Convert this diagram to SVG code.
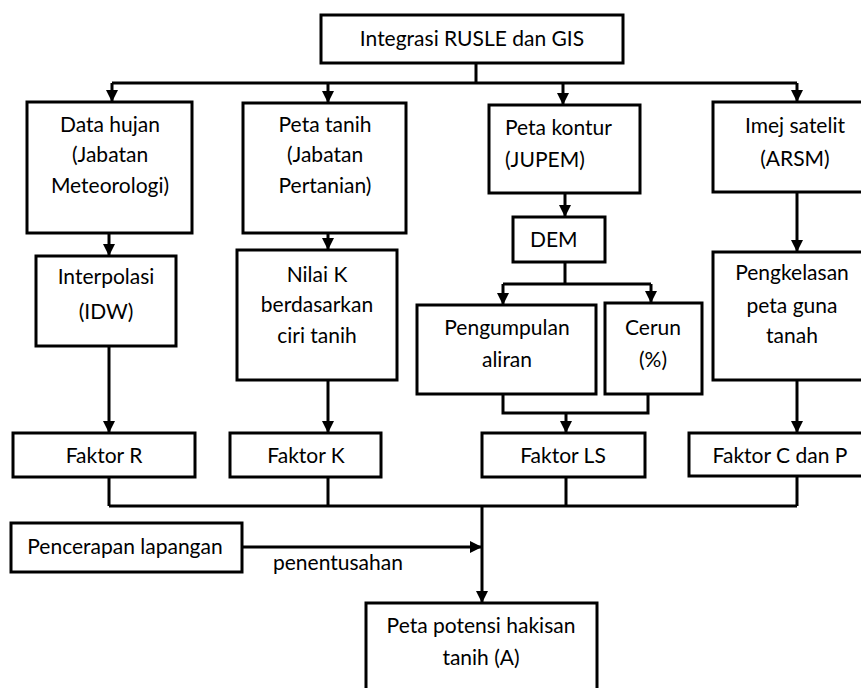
<svg xmlns="http://www.w3.org/2000/svg" width="861" height="688" viewBox="0 0 861 688">
<style>
.box{fill:#fff;stroke:#000;stroke-width:3}
.ln{fill:none;stroke:#000;stroke-width:3}
.arr{fill:none;stroke:#000;stroke-width:3;marker-end:url(#ah)}
text{font-family:Lato,"Liberation Sans",sans-serif;font-size:21px;fill:#000}
.c{text-anchor:middle}
</style>
<defs>
<marker id="ah" markerUnits="userSpaceOnUse" markerWidth="12" markerHeight="12" refX="12" refY="6" orient="auto">
<path d="M0,0 L12,6 L0,12 z" fill="#000"/>
</marker>
</defs>
<rect width="861" height="688" fill="#fff"/>
<g id="connectors">
<path class="ln" d="M476,63 V83 M112,83 H797"/>
<path class="arr" d="M112,83 V102"/>
<path class="arr" d="M328,83 V103"/>
<path class="arr" d="M563,83 V105"/>
<path class="arr" d="M797,83 V102"/>
<path class="arr" d="M109,233 V256"/>
<path class="arr" d="M328,233 V250"/>
<path class="arr" d="M565,193 V217"/>
<path class="arr" d="M797,192 V252"/>
<path class="ln" d="M565,262 V284 M503,284 H651"/>
<path class="arr" d="M503,284 V305"/>
<path class="arr" d="M651,284 V303"/>
<path class="ln" d="M503,394 V413 H648 V394"/>
<path class="arr" d="M566,413 V433"/>
<path class="arr" d="M109,346 V433"/>
<path class="arr" d="M328,380 V433"/>
<path class="arr" d="M797,380 V433"/>
<path class="ln" d="M109,477 V506 M328,477 V506 M566,477 V506 M797,476 V506 M109,506 H797"/>
<path class="arr" d="M482,506 V603"/>
<path class="arr" d="M242,547 H482"/>
<text x="273" y="570">penentusahan</text>
</g>
<g id="n-top"><rect class="box" x="321" y="15" width="302" height="48"/><text class="c" x="472" y="46">Integrasi RUSLE dan GIS</text></g>
<g id="n-hujan"><rect class="box" x="27" y="102" width="165" height="131"/><text class="c" x="110" y="132">Data hujan</text><text class="c" x="110" y="162">(Jabatan</text><text class="c" x="110" y="193">Meteorologi)</text></g>
<g id="n-tanih"><rect class="box" x="243" y="103" width="163" height="130"/><text class="c" x="325" y="132">Peta tanih</text><text class="c" x="325" y="162">(Jabatan</text><text class="c" x="325" y="193">Pertanian)</text></g>
<g id="n-kontur"><rect class="box" x="489" y="105" width="151" height="88"/><text x="505" y="135">Peta kontur</text><text x="505" y="167">(JUPEM)</text></g>
<g id="n-imej"><rect class="box" x="713" y="102" width="160" height="90"/><text class="c" x="795" y="133">Imej satelit</text><text class="c" x="795" y="166">(ARSM)</text></g>
<g id="n-interp"><rect class="box" x="36" y="256" width="140" height="90"/><text class="c" x="106" y="284">Interpolasi</text><text class="c" x="106" y="319">(IDW)</text></g>
<g id="n-nilaik"><rect class="box" x="237" y="250" width="160" height="130"/><text class="c" x="317" y="282">Nilai K</text><text class="c" x="317" y="312">berdasarkan</text><text class="c" x="317" y="343">ciri tanih</text></g>
<g id="n-dem"><rect class="box" x="513" y="217" width="92" height="45"/><text x="530" y="247">DEM</text></g>
<g id="n-pengkelasan"><rect class="box" x="713" y="252" width="160" height="128"/><text class="c" x="792" y="280">Pengkelasan</text><text class="c" x="792" y="313">peta guna</text><text class="c" x="792" y="343">tanah</text></g>
<g id="n-pengumpulan"><rect class="box" x="417" y="305" width="179" height="89"/><text class="c" x="507" y="335">Pengumpulan</text><text class="c" x="507" y="367">aliran</text></g>
<g id="n-cerun"><rect class="box" x="605" y="303" width="97" height="91"/><text class="c" x="653" y="335">Cerun</text><text class="c" x="653" y="367">(%)</text></g>
<g id="n-fr"><rect class="box" x="13" y="433" width="182" height="44"/><text class="c" x="104" y="463">Faktor R</text></g>
<g id="n-fk"><rect class="box" x="230" y="433" width="151" height="44"/><text class="c" x="306" y="463">Faktor K</text></g>
<g id="n-fls"><rect class="box" x="482" y="433" width="163" height="44"/><text class="c" x="563" y="463">Faktor LS</text></g>
<g id="n-fcp"><rect class="box" x="689" y="433" width="180" height="43"/><text class="c" x="780" y="463">Faktor C dan P</text></g>
<g id="n-pencerapan"><rect class="box" x="11" y="523" width="231" height="49"/><text class="c" x="125" y="554">Pencerapan lapangan</text></g>
<g id="n-peta"><rect class="box" x="366" y="603" width="231" height="100"/><text class="c" x="481" y="633">Peta potensi hakisan</text><text class="c" x="481" y="665">tanih (A)</text></g>
</svg>
